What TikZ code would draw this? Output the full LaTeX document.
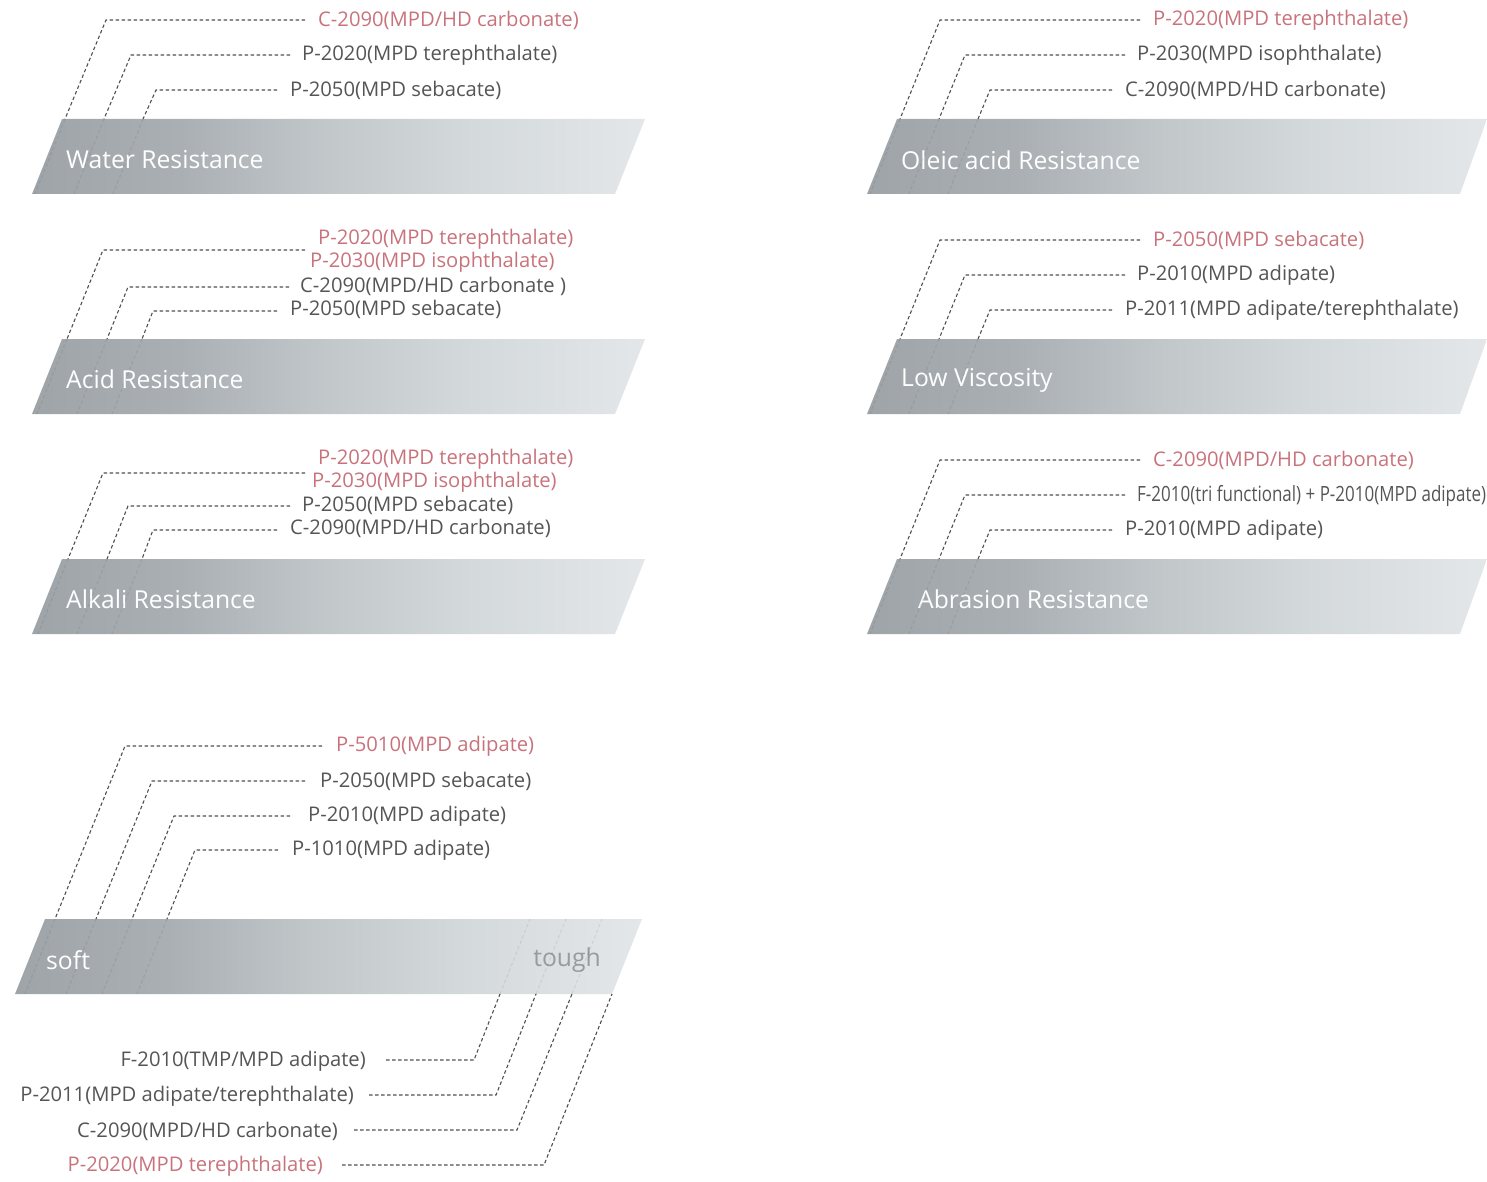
\documentclass[tikz,border=0pt]{standalone}
\usepackage{fontspec}
\setmainfont{Open Sans}
\definecolor{txtgray}{HTML}{555555}
\definecolor{pinkc}{HTML}{C8737C}
\definecolor{dashgray}{HTML}{505050}
\definecolor{toughgray}{HTML}{979B9E}
\definecolor{bandA}{HTML}{9EA4A8}
\definecolor{bandB}{HTML}{A9AFB3}
\definecolor{bandC}{HTML}{C2C7CA}
\definecolor{bandD}{HTML}{D4D9DC}
\definecolor{bandE}{HTML}{E3E7EA}
\pgfdeclarehorizontalshading{bandshade}{100bp}{color(0bp)=(bandA); color(25bp)=(bandA); color(37bp)=(bandB); color(49bp)=(bandC); color(61bp)=(bandD); color(75bp)=(bandE); color(100bp)=(bandE)}
\tikzset{
  lead/.style={draw=dashgray, line width=1.1pt, dash pattern=on 3.5pt off 2.5pt},
  leadin/.style={draw=black, draw opacity=0.07, line width=1.1pt, dash pattern=on 3.5pt off 2.5pt},
  band/.style={shading=bandshade},
  lab/.style={font=\fontsize{20.2}{23}\selectfont, text=txtgray, inner sep=0pt, anchor=west, yshift=-1.5pt},
  hl/.style={lab, text=pinkc},
  labr/.style={lab, anchor=east},
  hlr/.style={hl, anchor=east},
  bandlab/.style={font=\fontsize{24.7}{28}\selectfont, text=white, inner sep=0pt, anchor=west, yshift=-1pt},
}
\begin{document}
\begin{tikzpicture}[x=1pt,y=-1pt]
\useasboundingbox (0,0) rectangle (1487,1182);

% ===================== Water Resistance =====================
\path[band] (62,119) -- (645,119) -- (615,194) -- (32,194) -- cycle;
\node[bandlab] (wlab) at (66,159) {Water Resistance};
\node[hl]  (w1t) at (318,19) {C-2090(MPD/HD carbonate)};
\node[lab] (w2t) at (302,54) {P-2020(MPD terephthalate)};
\node[lab] (w3t) at (290,89) {P-2050(MPD sebacate)};
\coordinate (w1e) at (305,20);  \coordinate (w1c) at (106,20); \coordinate (w1b) at (65,119);  \coordinate (w1d) at (35,194);
\coordinate (w2e) at (290,55);  \coordinate (w2c) at (131,55); \coordinate (w2b) at (104,119); \coordinate (w2d) at (74,194);
\coordinate (w3e) at (277,90);  \coordinate (w3c) at (156,90); \coordinate (w3b) at (143,119); \coordinate (w3d) at (113,194);
\draw[lead] (w1e) -- (w1c) -- (w1b); \draw[leadin] (w1b) -- (w1d);
\draw[lead] (w2e) -- (w2c) -- (w2b); \draw[leadin] (w2b) -- (w2d);
\draw[lead] (w3e) -- (w3c) -- (w3b); \draw[leadin] (w3b) -- (w3d);

% ===================== Acid Resistance =====================
\path[band] (62,339) -- (645,339) -- (615,414) -- (32,414) -- cycle;
\node[bandlab] (alab) at (66,378) {Acid Resistance};
\node[hl]  (a1t) at (318,238) {P-2020(MPD terephthalate)};
\node[hl]  (a1u) at (310,261) {P-2030(MPD isophthalate)};
\node[lab] (a2t) at (300,285) {C-2090(MPD/HD carbonate )};
\node[lab] (a3t) at (290,308) {P-2050(MPD sebacate)};
\coordinate (a1e) at (305,250); \coordinate (a1c) at (103,250); \coordinate (a1b) at (67,339);  \coordinate (a1d) at (37,414);
\coordinate (a2e) at (289,287); \coordinate (a2c) at (128,287); \coordinate (a2b) at (107,339); \coordinate (a2d) at (77,414);
\coordinate (a3e) at (277,311); \coordinate (a3c) at (153,311); \coordinate (a3b) at (142,339); \coordinate (a3d) at (112,414);
\draw[lead] (a1e) -- (a1c) -- (a1b); \draw[leadin] (a1b) -- (a1d);
\draw[lead] (a2e) -- (a2c) -- (a2b); \draw[leadin] (a2b) -- (a2d);
\draw[lead] (a3e) -- (a3c) -- (a3b); \draw[leadin] (a3b) -- (a3d);

% ===================== Alkali Resistance =====================
\path[band] (62,559) -- (645,559) -- (615,634) -- (32,634) -- cycle;
\node[bandlab] (klab) at (66,598) {Alkali Resistance};
\node[hl]  (k1t) at (318,458) {P-2020(MPD terephthalate)};
\node[hl]  (k1u) at (312,481) {P-2030(MPD isophthalate)};
\node[lab] (k2t) at (302,504) {P-2050(MPD sebacate)};
\node[lab] (k3t) at (290,527) {C-2090(MPD/HD carbonate)};
\coordinate (k1e) at (305,473); \coordinate (k1c) at (103,473); \coordinate (k1b) at (68,559);  \coordinate (k1d) at (38,634);
\coordinate (k2e) at (290,506); \coordinate (k2c) at (128,506); \coordinate (k2b) at (107,559); \coordinate (k2d) at (77,634);
\coordinate (k3e) at (277,530); \coordinate (k3c) at (153,530); \coordinate (k3b) at (142,559); \coordinate (k3d) at (112,634);
\draw[lead] (k1e) -- (k1c) -- (k1b); \draw[leadin] (k1b) -- (k1d);
\draw[lead] (k2e) -- (k2c) -- (k2b); \draw[leadin] (k2b) -- (k2d);
\draw[lead] (k3e) -- (k3c) -- (k3b); \draw[leadin] (k3b) -- (k3d);

% ===================== Oleic acid Resistance =====================
\path[band] (897,119) -- (1487,119) -- (1460,194) -- (867,194) -- cycle;
\node[bandlab] (olab) at (901,159) {Oleic acid Resistance};
\node[hl]  (o1t) at (1153,19) {P-2020(MPD terephthalate)};
\node[lab] (o2t) at (1137,54) {P-2030(MPD isophthalate)};
\node[lab] (o3t) at (1125,89) {C-2090(MPD/HD carbonate)};
\coordinate (o1e) at (1140,20); \coordinate (o1c) at (940,20); \coordinate (o1b) at (900,119); \coordinate (o1d) at (870,194);
\coordinate (o2e) at (1125,55); \coordinate (o2c) at (965,55); \coordinate (o2b) at (939,119); \coordinate (o2d) at (909,194);
\coordinate (o3e) at (1112,90); \coordinate (o3c) at (990,90); \coordinate (o3b) at (978,119); \coordinate (o3d) at (948,194);
\draw[lead] (o1e) -- (o1c) -- (o1b); \draw[leadin] (o1b) -- (o1d);
\draw[lead] (o2e) -- (o2c) -- (o2b); \draw[leadin] (o2b) -- (o2d);
\draw[lead] (o3e) -- (o3c) -- (o3b); \draw[leadin] (o3b) -- (o3d);

% ===================== Low Viscosity =====================
\path[band] (897,339) -- (1487,339) -- (1460,414) -- (867,414) -- cycle;
\node[bandlab] (vlab) at (901,379) {Low Viscosity};
\node[hl]  (v1t) at (1153,239) {P-2050(MPD sebacate)};
\node[lab] (v2t) at (1137,274) {P-2010(MPD adipate)};
\node[lab] (v3t) at (1125,309) {P-2011(MPD adipate/terephthalate)};
\coordinate (v1e) at (1140,240); \coordinate (v1c) at (940,240); \coordinate (v1b) at (900,339); \coordinate (v1d) at (870,414);
\coordinate (v2e) at (1125,275); \coordinate (v2c) at (965,275); \coordinate (v2b) at (939,339); \coordinate (v2d) at (909,414);
\coordinate (v3e) at (1112,310); \coordinate (v3c) at (990,310); \coordinate (v3b) at (978,339); \coordinate (v3d) at (948,414);
\draw[lead] (v1e) -- (v1c) -- (v1b); \draw[leadin] (v1b) -- (v1d);
\draw[lead] (v2e) -- (v2c) -- (v2b); \draw[leadin] (v2b) -- (v2d);
\draw[lead] (v3e) -- (v3c) -- (v3b); \draw[leadin] (v3b) -- (v3d);

% ===================== Abrasion Resistance =====================
\path[band] (897,559) -- (1487,559) -- (1460,634) -- (867,634) -- cycle;
\node[bandlab] (blab) at (918,598) {Abrasion Resistance};
\node[hl]  (b1t) at (1153,459) {C-2090(MPD/HD carbonate)};
\node[lab] (b2t) at (1137,494) {\scalebox{0.84}[1.04]{F-2010(tri functional) + P-2010(MPD adipate)}};
\node[lab] (b3t) at (1125,529) {P-2010(MPD adipate)};
\coordinate (b1e) at (1140,460); \coordinate (b1c) at (940,460); \coordinate (b1b) at (900,559); \coordinate (b1d) at (870,634);
\coordinate (b2e) at (1125,495); \coordinate (b2c) at (965,495); \coordinate (b2b) at (939,559); \coordinate (b2d) at (909,634);
\coordinate (b3e) at (1112,530); \coordinate (b3c) at (990,530); \coordinate (b3b) at (978,559); \coordinate (b3d) at (948,634);
\draw[lead] (b1e) -- (b1c) -- (b1b); \draw[leadin] (b1b) -- (b1d);
\draw[lead] (b2e) -- (b2c) -- (b2b); \draw[leadin] (b2b) -- (b2d);
\draw[lead] (b3e) -- (b3c) -- (b3b); \draw[leadin] (b3b) -- (b3d);

% ===================== soft / tough =====================
\path[band] (45,919) -- (642,919) -- (612,994) -- (15,994) -- cycle;
\node[bandlab] (slab) at (46,959) {soft};
\node[bandlab, text=toughgray, anchor=east] (tlab) at (601,959) {tough};
% upper leads (soft side)
\node[hl]  (s1t) at (336,745) {P-5010(MPD adipate)};
\node[lab] (s2t) at (320,780) {P-2050(MPD sebacate)};
\node[lab] (s3t) at (308,815) {P-2010(MPD adipate)};
\node[lab] (s4t) at (292,849) {P-1010(MPD adipate)};
\coordinate (s1e) at (322,746); \coordinate (s1c) at (125,746); \coordinate (s1b) at (55,919);  \coordinate (s1d) at (25,994);
\coordinate (s2e) at (305,781); \coordinate (s2c) at (152,781); \coordinate (s2b) at (96,919);  \coordinate (s2d) at (66,994);
\coordinate (s3e) at (290,816); \coordinate (s3c) at (174,816); \coordinate (s3b) at (132,919); \coordinate (s3d) at (102,994);
\coordinate (s4e) at (278,850); \coordinate (s4c) at (195,850); \coordinate (s4b) at (167,919); \coordinate (s4d) at (137,994);
\draw[lead] (s1e) -- (s1c) -- (s1b); \draw[leadin] (s1b) -- (s1d);
\draw[lead] (s2e) -- (s2c) -- (s2b); \draw[leadin] (s2b) -- (s2d);
\draw[lead] (s3e) -- (s3c) -- (s3b); \draw[leadin] (s3b) -- (s3d);
\draw[lead] (s4e) -- (s4c) -- (s4b); \draw[leadin] (s4b) -- (s4d);
% lower leads (tough side)
\node[labr] (u1t) at (366,1060) {F-2010(TMP/MPD adipate)};
\node[labr] (u2t) at (354,1095) {P-2011(MPD adipate/terephthalate)};
\node[labr] (u3t) at (338,1130) {C-2090(MPD/HD carbonate)};
\node[hlr]  (u4t) at (323,1165) {P-2020(MPD terephthalate)};
\coordinate (u1e) at (386,1060); \coordinate (u1c) at (474,1060); \coordinate (u1b) at (500,994); \coordinate (u1d) at (530,919);
\coordinate (u2e) at (369,1095); \coordinate (u2c) at (496,1095); \coordinate (u2b) at (536,994); \coordinate (u2d) at (566,919);
\coordinate (u3e) at (354,1130); \coordinate (u3c) at (517,1130); \coordinate (u3b) at (572,994); \coordinate (u3d) at (602,919);
\coordinate (u4e) at (342,1165); \coordinate (u4c) at (544,1165); \coordinate (u4b) at (612,994); \coordinate (u4d) at (642,919);
\draw[lead] (u1e) -- (u1c) -- (u1b); \draw[leadin] (u1b) -- (u1d);
\draw[lead] (u2e) -- (u2c) -- (u2b); \draw[leadin] (u2b) -- (u2d);
\draw[lead] (u3e) -- (u3c) -- (u3b); \draw[leadin] (u3b) -- (u3d);
\draw[lead] (u4e) -- (u4c) -- (u4b);
\end{tikzpicture}
\end{document}
